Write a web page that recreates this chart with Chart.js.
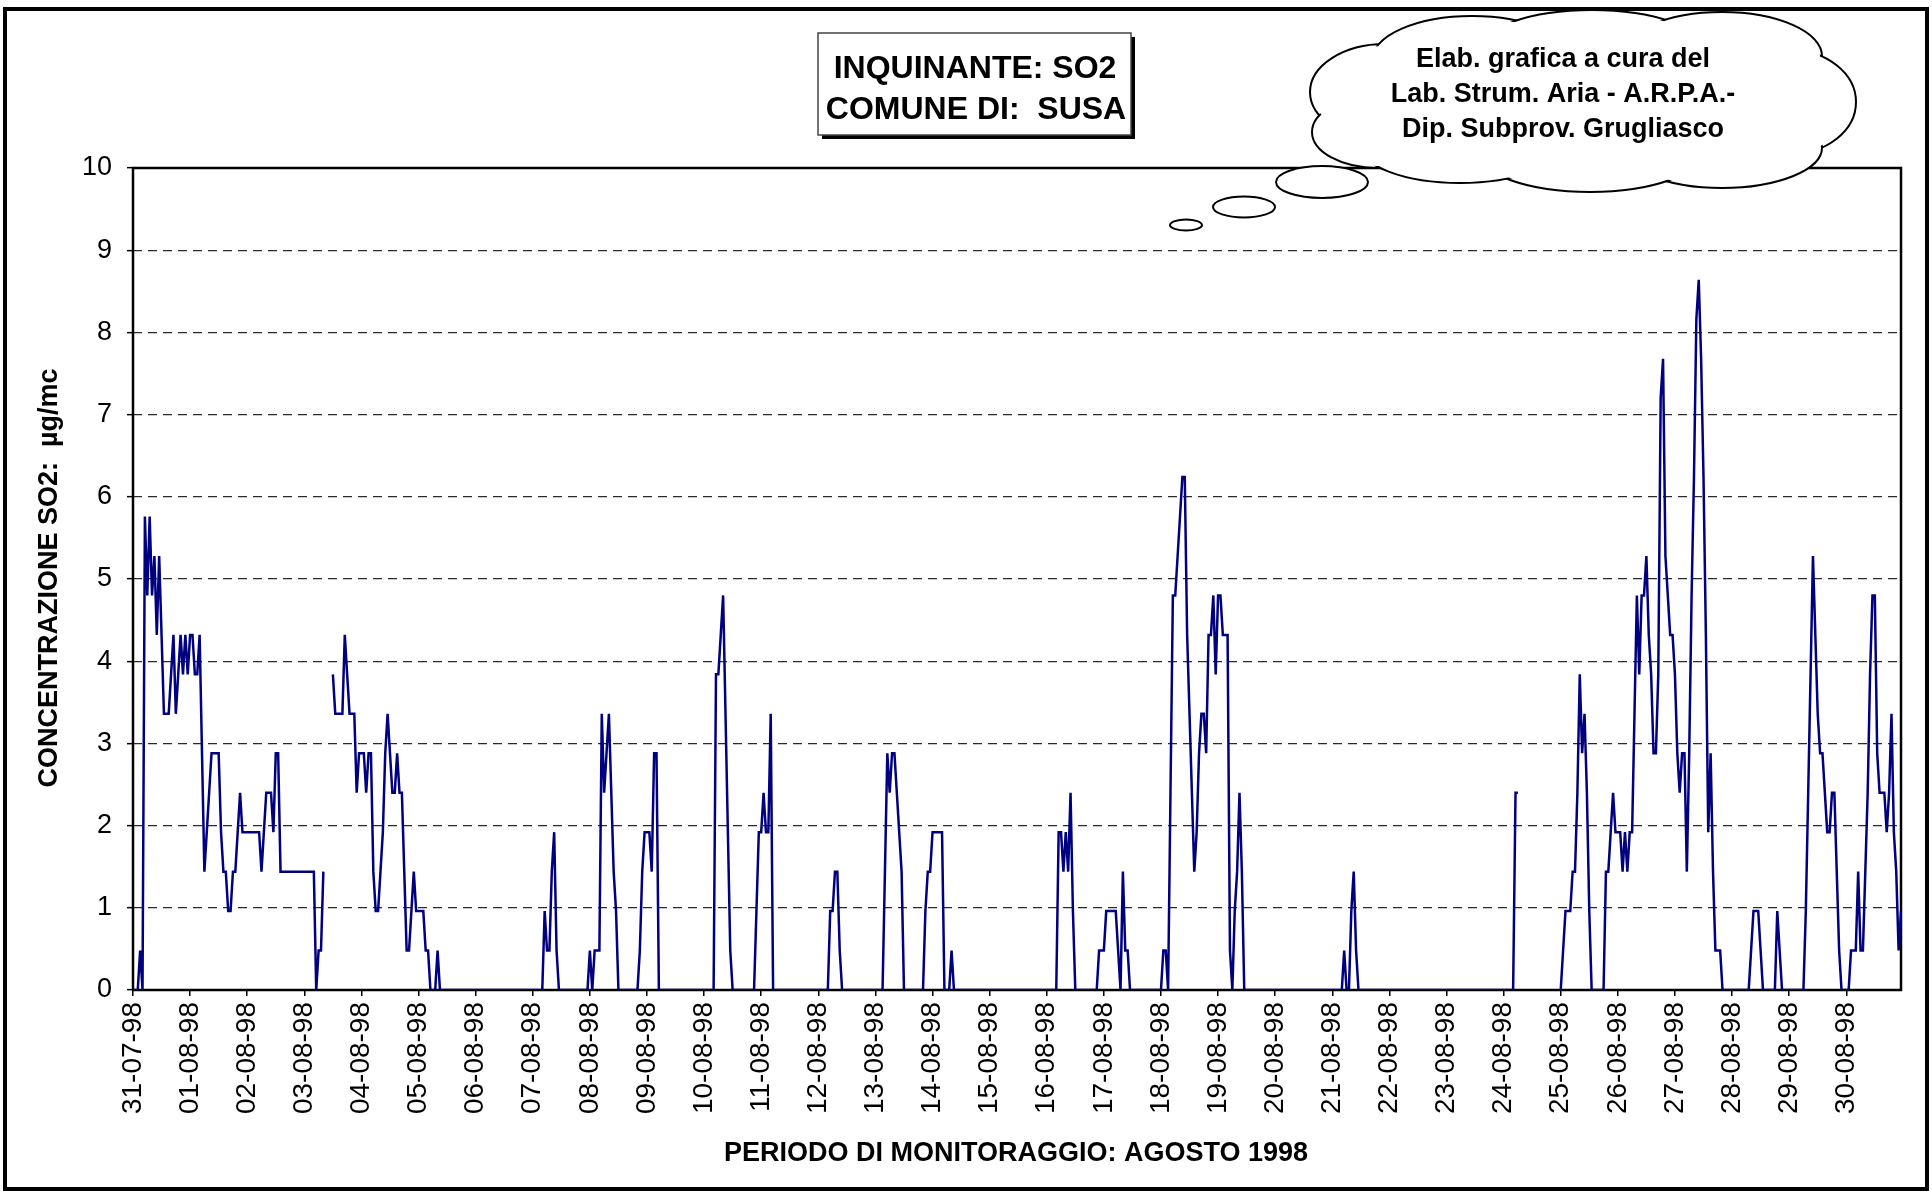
<!DOCTYPE html>
<html>
<head>
<meta charset="utf-8">
<title>SO2 - Susa - agosto 1998</title>
<script src="https://cdn.jsdelivr.net/npm/chart.js@4.4.1/dist/chart.umd.min.js"></script>
<style>
  html, body { margin: 0; padding: 0; background: #fff; }
  #wrap { width: 1932px; height: 1193px; }
</style>
</head>
<body>
<div id="wrap"><canvas id="so2Chart" width="1932" height="1193"></canvas></div>
<script>
// ---------- Data ----------

// one label per day (ticks every 24 hourly readings)
const dayLabels = [
  '31-07-98', '01-08-98', '02-08-98', '03-08-98', '04-08-98', '05-08-98', '06-08-98', '07-08-98',
  '08-08-98', '09-08-98', '10-08-98', '11-08-98', '12-08-98', '13-08-98', '14-08-98', '15-08-98',
  '16-08-98', '17-08-98', '18-08-98', '19-08-98', '20-08-98', '21-08-98', '22-08-98', '23-08-98',
  '24-08-98', '25-08-98', '26-08-98', '27-08-98', '28-08-98', '29-08-98', '30-08-98'
];

// hourly SO2 (µg/mc), one row per day, null = missing reading
const so2 = [
  0, 0, 0, 0.48, 0, 5.76, 4.8, 5.76, 4.8, 5.28, 4.32, 5.28, 4.32, 3.36, 3.36, 3.36, 3.84, 4.32, 3.36, 3.84, 4.32, 3.84, 4.32, 3.84,          // 31-07
  4.32, 4.32, 3.84, 3.84, 4.32, 2.88, 1.44, 1.92, 2.4, 2.88, 2.88, 2.88, 2.88, 1.92, 1.44, 1.44, 0.96, 0.96, 1.44, 1.44, 1.92, 2.4, 1.92, 1.92, // 01-08
  1.92, 1.92, 1.92, 1.92, 1.92, 1.92, 1.44, 1.92, 2.4, 2.4, 2.4, 1.92, 2.88, 2.88, 1.44, 1.44, 1.44, 1.44, 1.44, 1.44, 1.44, 1.44, 1.44, 1.44, // 02-08
  1.44, 1.44, 1.44, 1.44, 1.44, 0, 0.48, 0.48, 1.44, null, null, null, 3.84, 3.36, 3.36, 3.36, 3.36, 4.32, 3.84, 3.36, 3.36, 3.36, 2.4, 2.88, // 03-08
  2.88, 2.88, 2.4, 2.88, 2.88, 1.44, 0.96, 0.96, 1.44, 1.92, 2.88, 3.36, 2.88, 2.4, 2.4, 2.88, 2.4, 2.4, 1.44, 0.48, 0.48, 0.96, 1.44, 0.96, // 04-08
  0.96, 0.96, 0.96, 0.48, 0.48, 0, 0, 0, 0.48, 0, 0, 0, 0, 0, 0, 0, 0, 0, 0, 0, 0, 0, 0, 0,                                   // 05-08
  0, 0, 0, 0, 0, 0, 0, 0, 0, 0, 0, 0, 0, 0, 0, 0, 0, 0, 0, 0, 0, 0, 0, 0,                                                     // 06-08
  0, 0, 0, 0, 0, 0.96, 0.48, 0.48, 1.44, 1.92, 0.48, 0, 0, 0, 0, 0, 0, 0, 0, 0, 0, 0, 0, 0,                                   // 07-08
  0.48, 0, 0.48, 0.48, 0.48, 3.36, 2.4, 2.88, 3.36, 2.4, 1.44, 0.96, 0, 0, 0, 0, 0, 0, 0, 0, 0, 0.48, 1.44, 1.92,            // 08-08
  1.92, 1.92, 1.44, 2.88, 2.88, 0, 0, 0, 0, 0, 0, 0, 0, 0, 0, 0, 0, 0, 0, 0, 0, 0, 0, 0,                                      // 09-08
  0, 0, 0, 0, 0, 3.84, 3.84, 4.32, 4.8, 3.36, 1.92, 0.48, 0, 0, 0, 0, 0, 0, 0, 0, 0, 0, 0.96, 1.92,                            // 10-08
  1.92, 2.4, 1.92, 1.92, 3.36, 0, 0, 0, 0, 0, 0, 0, 0, 0, 0, 0, 0, 0, 0, 0, 0, 0, 0, 0,                                       // 11-08
  0, 0, 0, 0, 0, 0.96, 0.96, 1.44, 1.44, 0.48, 0, 0, 0, 0, 0, 0, 0, 0, 0, 0, 0, 0, 0, 0,                                      // 12-08
  0, 0, 0, 0, 1.44, 2.88, 2.4, 2.88, 2.88, 2.4, 1.92, 1.44, 0, 0, 0, 0, 0, 0, 0, 0, 0, 0.96, 1.44, 1.44,                       // 13-08
  1.92, 1.92, 1.92, 1.92, 1.92, 0, 0, 0, 0.48, 0, 0, 0, 0, 0, 0, 0, 0, 0, 0, 0, 0, 0, 0, 0,                                   // 14-08
  0, 0, 0, 0, 0, 0, 0, 0, 0, 0, 0, 0, 0, 0, 0, 0, 0, 0, 0, 0, 0, 0, 0, 0,                                                     // 15-08
  0, 0, 0, 0, 0, 1.92, 1.92, 1.44, 1.92, 1.44, 2.4, 0.96, 0, 0, 0, 0, 0, 0, 0, 0, 0, 0, 0.48, 0.48,                             // 16-08
  0.48, 0.96, 0.96, 0.96, 0.96, 0.96, 0.48, 0, 1.44, 0.48, 0.48, 0, 0, 0, 0, 0, 0, 0, 0, 0, 0, 0, 0, 0,                        // 17-08
  0, 0.48, 0.48, 0, 2.4, 4.8, 4.8, 5.28, 5.76, 6.24, 6.24, 4.32, 3.36, 2.4, 1.44, 1.92, 2.88, 3.36, 3.36, 2.88, 4.32, 4.32, 4.8, 3.84, // 18-08
  4.8, 4.8, 4.32, 4.32, 4.32, 0.48, 0, 0.96, 1.44, 2.4, 1.44, 0, 0, 0, 0, 0, 0, 0, 0, 0, 0, 0, 0, 0,                           // 19-08
  0, 0, 0, 0, 0, 0, 0, 0, 0, 0, 0, 0, 0, 0, 0, 0, 0, 0, 0, 0, 0, 0, 0, 0,                                                     // 20-08
  0, 0, 0, 0, 0, 0.48, 0, 0, 0.96, 1.44, 0.48, 0, 0, 0, 0, 0, 0, 0, 0, 0, 0, 0, 0, 0,                                         // 21-08
  0, 0, 0, 0, 0, 0, 0, 0, 0, 0, 0, 0, 0, 0, 0, 0, 0, 0, 0, 0, 0, 0, 0, 0,                                                     // 22-08
  0, 0, 0, 0, 0, 0, 0, 0, 0, 0, 0, 0, 0, 0, 0, 0, 0, 0, 0, 0, 0, 0, 0, 0,                                                     // 23-08
  0, 0, 0, 0, 0, 2.4, 2.4, null, null, null, null, null, null, null, null, null, null, null, null, null, null, null, null, null, // 24-08
  0, 0.48, 0.96, 0.96, 0.96, 1.44, 1.44, 2.4, 3.84, 2.88, 3.36, 2.4, 0.96, 0, 0, 0, 0, 0, 0, 1.44, 1.44, 1.92, 2.4, 1.92,       // 25-08
  1.92, 1.92, 1.44, 1.92, 1.44, 1.92, 1.92, 3.36, 4.8, 3.84, 4.8, 4.8, 5.28, 4.32, 3.84, 2.88, 2.88, 3.84, 7.2, 7.68, 5.28, 4.8, 4.32, 4.32, // 26-08
  3.84, 2.88, 2.4, 2.88, 2.88, 1.44, 2.88, 4.8, 6.24, 8.16, 8.64, 7.68, 6.24, 4.32, 1.92, 2.88, 1.44, 0.48, 0.48, 0.48, 0, 0, 0, 0, // 27-08
  0, 0, 0, 0, 0, 0, 0, 0, 0.48, 0.96, 0.96, 0.96, 0.48, 0, 0, 0, 0, 0, 0, 0.96, 0.48, 0, 0, 0,                                  // 28-08
  0, 0, 0, 0, 0, 0, 0, 0.96, 2.4, 3.84, 5.28, 4.32, 3.36, 2.88, 2.88, 2.4, 1.92, 1.92, 2.4, 2.4, 1.44, 0.48, 0, 0,             // 29-08
  0, 0, 0.48, 0.48, 0.48, 1.44, 0.48, 0.48, 1.44, 2.4, 3.84, 4.8, 4.8, 2.88, 2.4, 2.4, 2.4, 1.92, 2.4, 3.36, 1.92, 1.44, 0.48, 0.96 // 30-08
];

const titleLines = ['INQUINANTE: SO2', 'COMUNE DI:  SUSA'];
const creditLines = ['Elab. grafica a cura del', 'Lab. Strum. Aria - A.R.P.A.-', 'Dip. Subprov. Grugliasco'];
const yTitle = 'CONCENTRAZIONE SO2:  µg/mc';
const xTitle = 'PERIODO DI MONITORAGGIO: AGOSTO 1998';

// ---------- Drawing helpers ----------

const FONT = '"Liberation Sans", Arial, sans-serif';

function ellipse(ctx, cx, cy, rx, ry) {
  ctx.beginPath();
  ctx.ellipse(cx, cy, rx, ry, 0, 0, Math.PI * 2);
}

function drawCloud(ctx) {
  const lobes = [
    [1385, 92, 75, 48], [1378, 132, 66, 36], [1472, 60, 100, 44],
    [1592, 50, 112, 40], [1722, 56, 100, 44], [1790, 102, 66, 52],
    [1722, 148, 100, 40], [1590, 152, 112, 40], [1460, 145, 100, 38]
  ];
  ctx.save();
  ctx.lineWidth = 2;
  ctx.strokeStyle = '#000';
  ctx.fillStyle = '#fff';
  lobes.forEach(l => { ellipse(ctx, l[0], l[1], l[2], l[3]); ctx.fill(); ctx.stroke(); });
  lobes.forEach(l => { ellipse(ctx, l[0], l[1], l[2] - 2, l[3] - 2); ctx.fill(); });
  ellipse(ctx, 1582, 100, 250, 62);
  ctx.fill();

  // thought bubbles
  [[1322, 182, 46, 16], [1244, 207, 31, 10.5], [1186, 225, 16, 5.5]].forEach(b => {
    ellipse(ctx, b[0], b[1], b[2], b[3]);
    ctx.fill();
    ctx.stroke();
  });

  ctx.fillStyle = '#000';
  ctx.font = 'bold 27px ' + FONT;
  ctx.textAlign = 'center';
  ctx.textBaseline = 'middle';
  creditLines.forEach((t, i) => ctx.fillText(t, 1563, 60 + i * 35));
  ctx.restore();
}

function drawTitleBox(ctx) {
  ctx.save();
  ctx.fillStyle = '#000';
  ctx.fillRect(822, 37, 313, 102);
  ctx.fillStyle = '#fff';
  ctx.fillRect(818, 33, 313, 102);
  ctx.strokeStyle = '#444';
  ctx.lineWidth = 1.5;
  ctx.strokeRect(818, 33, 313, 102);
  ctx.fillStyle = '#000';
  ctx.font = 'bold 32px ' + FONT;
  ctx.textAlign = 'center';
  ctx.textBaseline = 'middle';
  ctx.fillText(titleLines[0], 975, 69);
  ctx.fillText(titleLines[1], 976, 110);
  ctx.restore();
}

const decorPlugin = {
  id: 'decor',
  beforeDraw(chart) {
    const ctx = chart.ctx;
    ctx.save();
    ctx.fillStyle = '#fff';
    ctx.fillRect(0, 0, chart.width, chart.height);
    ctx.restore();
  },
  beforeDatasetsDraw(chart) {
    const ctx = chart.ctx;
    const a = chart.chartArea;
    ctx.save();
    ctx.strokeStyle = '#000';
    ctx.lineWidth = 2.5;
    ctx.strokeRect(a.left, a.top, a.right - a.left, a.bottom - a.top);
    ctx.restore();
  },
  afterDraw(chart) {
    const ctx = chart.ctx;
    const a = chart.chartArea;
    ctx.save();
    // outer frame
    ctx.strokeStyle = '#000';
    ctx.lineWidth = 4;
    ctx.strokeRect(5, 9, 1922, 1180);
    // axis titles
    ctx.fillStyle = '#000';
    ctx.font = 'bold 27px ' + FONT;
    ctx.textAlign = 'center';
    ctx.textBaseline = 'middle';
    ctx.fillText(xTitle, 1016, 1154);
    ctx.translate(50, (a.top + a.bottom) / 2 - 1);
    ctx.rotate(-Math.PI / 2);
    ctx.fillText(yTitle, 0, 0);
    ctx.restore();
    drawTitleBox(ctx);
    drawCloud(ctx);
  }
};

// ---------- Chart ----------

const ctx = document.getElementById('so2Chart').getContext('2d');
new Chart(ctx, {
  type: 'line',
  data: {
    datasets: [{
      label: 'SO2',
      data: so2.map((v, i) => ({ x: i, y: v })),
      borderColor: '#000080',
      borderWidth: 2.5,
      pointRadius: 0,
      tension: 0,
      spanGaps: false,
      fill: false
    }]
  },
  options: {
    responsive: false,
    animation: false,
    events: [],
    layout: { padding: { top: 168, right: 31, left: 0, bottom: 0 } },
    plugins: {
      legend: { display: false },
      tooltip: { enabled: false }
    },
    scales: {
      x: {
        type: 'linear',
        min: 0,
        max: so2.length - 1,
        afterBuildTicks: scale => { scale.ticks = dayLabels.map((d, i) => ({ value: i * 24 })); },
        afterFit: scale => { scale.height = 203; },
        ticks: {
          autoSkip: false,
          maxRotation: 90,
          minRotation: 90,
          padding: 6,
          color: '#000',
          font: { family: FONT, size: 28 },
          callback: value => dayLabels[value / 24]
        },
        grid: { drawOnChartArea: false, drawTicks: true, tickLength: 6, tickColor: '#000', lineWidth: 1.5 },
        border: { display: false }
      },
      y: {
        min: 0,
        max: 10,
        afterFit: scale => { scale.width = 133; },
        ticks: {
          stepSize: 1,
          padding: 15,
          color: '#000',
          font: { family: FONT, size: 27 }
        },
        grid: {
          color: c => (c.tick && (c.tick.value === 0 || c.tick.value === 10)) ? 'rgba(0,0,0,0)' : '#2a2a2a',
          lineWidth: 1.3,
          tickLength: 6,
          tickColor: '#000',
          tickWidth: 1.5
        },
        border: { display: false, dash: [9, 6] }
      }
    }
  },
  plugins: [decorPlugin]
});
</script>
</body>
</html>
